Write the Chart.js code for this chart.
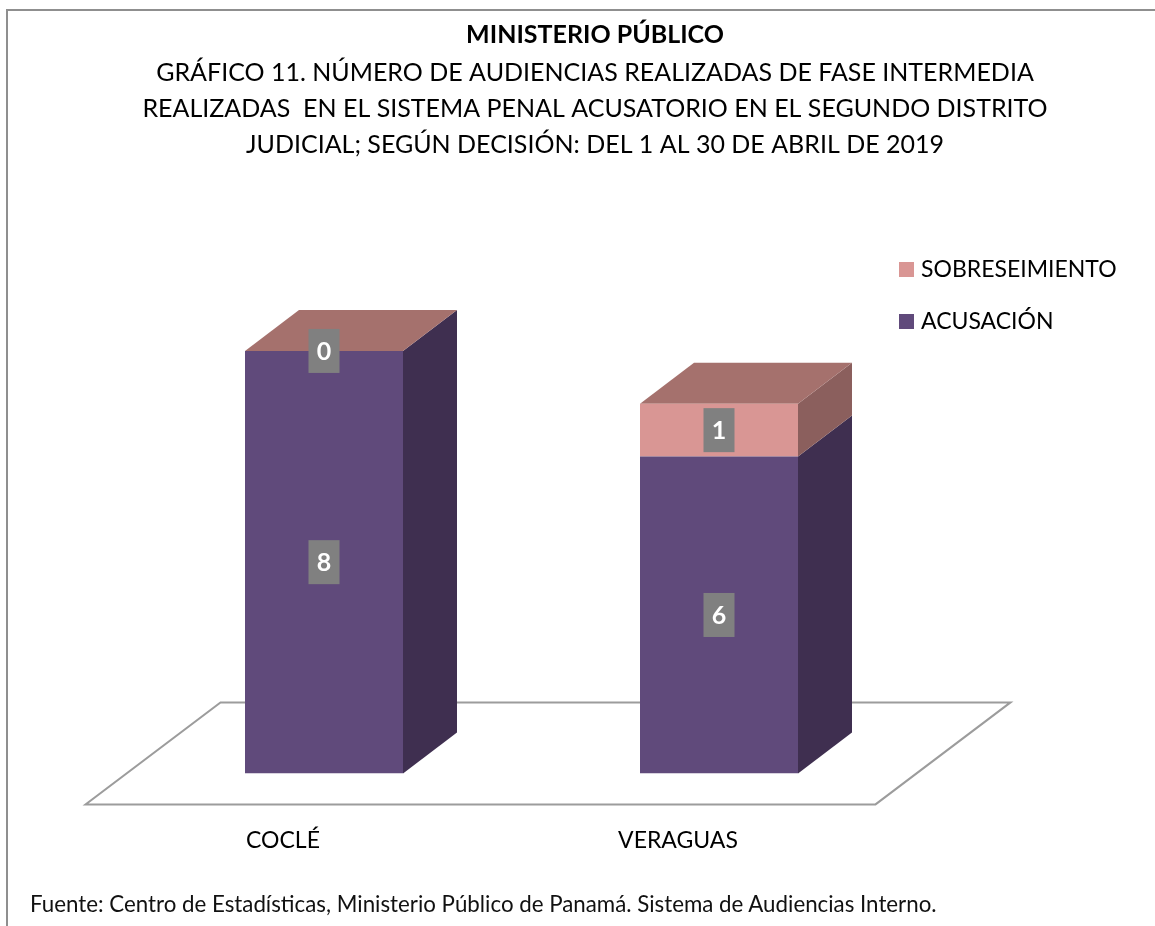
<!DOCTYPE html>
<html>
<head>
<meta charset="utf-8">
<title>Ministerio Público</title>
<script src="https://cdn.jsdelivr.net/npm/chart.js@4"></script>
<style>
  body { margin: 0; background: #fff; overflow: hidden; }
  #frame { position: absolute; left: 6px; top: 9px; width: 1155px; height: 926px;
           border-left: 2px solid #8f8f8f; border-top: 2px solid #8f8f8f; }
  #fuente { position: absolute; left: 30px; top: 890px; font: 22.3px Lato, sans-serif; color: #111; white-space: nowrap; }
  canvas { position: absolute; left: 0; top: 0; }
</style>
</head>
<body>
<div id="frame"></div>
<canvas id="myChart" width="1155" height="926"></canvas>
<div id="fuente">Fuente: Centro de Estadísticas, Ministerio Público de Panamá. Sistema de Audiencias Interno.</div>
<script>
const categories = ['COCLÉ', 'VERAGUAS'];
const acusacion = [8, 6];
const sobreseimiento = [0, 1];

const titleText = 'MINISTERIO PÚBLICO';
const subtitleLines = [
  'GRÁFICO 11. NÚMERO DE AUDIENCIAS REALIZADAS DE FASE INTERMEDIA',
  'REALIZADAS  EN EL SISTEMA PENAL ACUSATORIO EN EL SEGUNDO DISTRITO',
  'JUDICIAL; SEGÚN DECISIÓN: DEL 1 AL 30 DE ABRIL DE 2019'
];

const purple = '#604a7b';
const pink = '#d99694';
const sideColors = ['#3f2f50', '#8b5f5d'];
const topColor = '#a5716d';

// depth of the fake 3D box
const depthX = 54;
const depthY = 41;

function swatch(color) {
  const c = document.createElement('canvas');
  c.width = 15;
  c.height = 15;
  const g = c.getContext('2d');
  g.fillStyle = color;
  g.fillRect(0, 0, 15, 15);
  return c;
}

function poly(ctx, pts, color) {
  ctx.fillStyle = color;
  ctx.beginPath();
  pts.forEach((p, i) => i ? ctx.lineTo(p[0], p[1]) : ctx.moveTo(p[0], p[1]));
  ctx.closePath();
  ctx.fill();
}

const box3d = {
  id: 'box3d',
  afterLayout(chart) {
    // titles are centred on the drawing, not the plot
    chart.boxes.filter(b => b.options && b.options.text).forEach(b => {
      b.left = 35;
      b.right = 1155;
    });
    const legend = chart.legend;
    const pad = legend.options.labels.padding;
    legend.left = 903.5 - pad;
    legend.right = 1155;
    legend.top = 258 - pad;
  },
  beforeDatasetsDraw(chart) {
    const ctx = chart.ctx;
    const area = chart.chartArea;
    const y0 = chart.scales.y.getPixelForValue(0);

    // floor
    ctx.save();
    ctx.strokeStyle = '#9c9c9c';
    ctx.lineWidth = 2;
    ctx.beginPath();
    ctx.moveTo(area.left - 41, y0 + 31);
    ctx.lineTo(area.right - 41, y0 + 31);
    ctx.lineTo(area.right + 94, y0 - 71);
    ctx.lineTo(area.left + 94, y0 - 71);
    ctx.closePath();
    ctx.stroke();

    // right faces, then the top face of the stack
    chart.data.datasets.forEach((ds, d) => {
      chart.getDatasetMeta(d).data.forEach(bar => {
        const r = bar.x + bar.width / 2;
        poly(ctx, [[r, bar.y], [r + depthX, bar.y - depthY], [r + depthX, bar.base - depthY], [r, bar.base]], sideColors[d]);
      });
    });
    const last = chart.getDatasetMeta(chart.data.datasets.length - 1).data;
    last.forEach(bar => {
      const l = bar.x - bar.width / 2;
      const r = bar.x + bar.width / 2;
      poly(ctx, [[l, bar.y], [r, bar.y], [r + depthX, bar.y - depthY], [l + depthX, bar.y - depthY]], topColor);
    });
    ctx.restore();
  },
  afterDatasetsDraw(chart) {
    const ctx = chart.ctx;
    ctx.save();
    ctx.font = 'bold 25px Lato, sans-serif';
    ctx.textAlign = 'center';
    ctx.textBaseline = 'middle';
    chart.data.datasets.forEach((ds, d) => {
      chart.getDatasetMeta(d).data.forEach((bar, i) => {
        const my = (bar.y + bar.base) / 2;
        ctx.fillStyle = '#808080';
        ctx.fillRect(bar.x - 15.5, my - 22, 31, 44);
        ctx.fillStyle = '#fff';
        ctx.fillText(ds.data[i], bar.x, my + 1);
      });
    });
    ctx.restore();
  }
};

new Chart(document.getElementById('myChart'), {
  type: 'bar',
  data: {
    labels: categories,
    datasets: [
      { label: 'ACUSACIÓN', data: acusacion, backgroundColor: purple },
      { label: 'SOBRESEIMIENTO', data: sobreseimiento, backgroundColor: pink }
    ]
  },
  options: {
    responsive: false,
    animation: false,
    layout: { padding: { left: 126.5, right: 238.5, bottom: 27, top: 0 } },
    datasets: { bar: { categoryPercentage: 1, barPercentage: 0.4 } },
    scales: {
      x: {
        stacked: true,
        grid: { display: false },
        border: { display: false },
        ticks: { color: '#000', padding: 45, labelOffset: -41, maxRotation: 0, font: { family: 'Lato', size: 23 } }
      },
      y: { stacked: true, display: false, min: 0, max: 11 }
    },
    plugins: {
      title: {
        display: true,
        text: titleText,
        color: '#000',
        padding: { top: 19, bottom: 0 },
        font: { family: 'Lato', size: 25, weight: 'bold', lineHeight: 1.3 }
      },
      subtitle: {
        display: true,
        text: subtitleLines,
        color: '#000',
        padding: { top: 3, bottom: 30 },
        font: { family: 'Lato', size: 25, weight: 'normal', lineHeight: 1.44 }
      },
      legend: {
        position: 'chartArea',
        reverse: true,
        align: 'start',
        labels: {
          color: '#000',
          padding: 29,
          usePointStyle: true,
          pointStyleWidth: 6,
          boxHeight: 15,
          font: { family: 'Lato', size: 23 },
          generateLabels(chart) {
            return Chart.defaults.plugins.legend.labels.generateLabels(chart)
              .map(l => ({ ...l, pointStyle: swatch(l.fillStyle) }));
          }
        }
      },
      tooltip: { enabled: false }
    }
  },
  plugins: [box3d]
});
</script>
</body>
</html>
